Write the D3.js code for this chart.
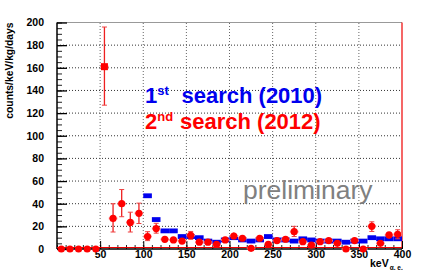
<!DOCTYPE html>
<html>
<head>
<meta charset="utf-8">
<script src="https://cdn.jsdelivr.net/npm/d3@7"></script>
<style>
    body { margin: 0; background: #fff; }
    svg { display: block; font-family: 'Liberation Sans', Arial, sans-serif; }
    .tick text { font-weight: bold; font-size: 10.5px; fill: #000; }
    .axis path { display: none; }
</style>
</head>
<body>
<svg id="chart" width="443" height="273"></svg>
<script>
// 2nd search (2012), red points: bin centre (keV), counts, error low, error high
let redEnergy = [5, 15, 25, 35, 45, 55, 65, 75, 85, 95, 105, 115, 125, 135, 145, 155, 165, 175, 185, 195,
    205, 215, 225, 235, 245, 255, 265, 275, 285, 295, 305, 315, 325, 335, 345, 355, 365, 375, 385, 395]
let redCounts = [0, 0, 0, 0, 0, 161, 27, 40, 23.5, 31.5, 11, 18, 8.5, 8, 7, 12, 6, 6, 4, 8,
    11.5, 9.5, 0.6, 9.5, 4, 7.4, 8.6, 15.3, 6.5, 3.5, 6.5, 7.4, 5, 0, 7.4, 0, 20, 5, 12.4, 13]
let redLow = [0, 0, 0, 0, 0, 127, 15, 28.5, 15, 22.5, 7.4, 14, 6, 5.5, 4.5, 8.5, 4, 4, 2.5, 5.5,
    8.5, 7, 0, 7, 2.5, 5, 6, 11, 4, 2, 4, 5, 3, 0, 5, 0, 15.5, 3, 9, 9]
let redHigh = [0, 0, 0, 0, 0, 196, 40, 52.5, 32.5, 40.5, 15.3, 22.7, 11, 10.5, 9.5, 15.5, 8, 8, 6, 10.5,
    14.5, 12, 2, 12, 6, 10, 11, 20, 9, 5, 9, 10, 7, 1, 10, 1, 24, 7, 15, 17]
let squareMarkers = [55]

// 1st search (2010), blue bins
let blueEnergy = [105, 115, 125, 135, 145, 155, 165, 175, 185, 195, 205, 215, 225, 235, 245,
    255, 265, 275, 285, 295, 305, 315, 325, 335, 345, 355, 365, 375, 385, 395]
let blueCounts = [47, 26, 16, 16, 11, 11, 10, 7, 6, 8, 10, 8, 7, 8, 11,
    8, 8, 7, 9, 8, 7, 7, 7, 6, 7, 7, 10, 9, 9, 9]

let binWidth = 10
let xTicks = [50, 100, 150, 200, 250, 300, 350, 400]
let yTicks = [0, 20, 40, 60, 80, 100, 120, 140, 160, 180, 200]

function main() {
    let svg = d3.select('#chart'),
        margin = {top: 22.5, bottom: 24, left: 57, right: 41},
        width = svg.attr('width') - margin.left - margin.right,
        height = svg.attr('height') - margin.top - margin.bottom

    let x = d3.scaleLinear().domain([0, 400]).range([margin.left, margin.left + width]),
        y = d3.scaleLinear().domain([0, 200]).range([margin.top + height, margin.top])

    // grid
    svg.append('g').selectAll('line')
        .data(yTicks.filter(d => d > 0 && d < 200))
        .enter().append('line')
        .attr('x1', x(0)).attr('x2', x(400))
        .attr('y1', d => y(d)).attr('y2', d => y(d))
        .attr('stroke', '#333').attr('stroke-width', 1)
        .attr('stroke-dasharray', '1,2')

    svg.append('g').selectAll('line')
        .data(xTicks.filter(d => d < 400))
        .enter().append('line')
        .attr('x1', d => x(d)).attr('x2', d => x(d))
        .attr('y1', y(0)).attr('y2', y(200))
        .attr('stroke', '#666').attr('stroke-width', 1)
        .attr('stroke-dasharray', '1,2')

    // frame
    svg.append('line')
        .attr('x1', x(0)).attr('x2', x(400)).attr('y1', y(200)).attr('y2', y(200))
        .attr('stroke', '#999').attr('stroke-width', 1)
    svg.append('line')
        .attr('x1', x(400)).attr('x2', x(400)).attr('y1', y(200)).attr('y2', y(0))
        .attr('stroke', '#e00').attr('stroke-width', 1.2)

    // inside ticks
    svg.append('g')
        .attr('class', 'axis')
        .attr('transform', 'translate(' + x(0) + ',0)')
        .call(d3.axisLeft(y).ticks(50).tickSize(-5).tickFormat(''))
        .selectAll('line').attr('stroke', '#222')
    svg.append('g')
        .attr('class', 'axis')
        .attr('transform', 'translate(' + x(0) + ',0)')
        .call(d3.axisLeft(y).tickValues(yTicks).tickSize(-10).tickPadding(13))
        .selectAll('line').attr('stroke', '#000').attr('stroke-width', 1.3)

    svg.append('g')
        .attr('class', 'axis')
        .attr('transform', 'translate(0,' + y(0) + ')')
        .call(d3.axisBottom(x).ticks(40).tickSize(-4).tickFormat(''))
        .selectAll('line').attr('stroke', '#222')
    svg.append('g')
        .attr('class', 'axis')
        .attr('transform', 'translate(0,' + y(0) + ')')
        .call(d3.axisBottom(x).tickValues(xTicks).tickSize(-8).tickPadding(2))
        .selectAll('line').attr('stroke', '#000')

    // axis lines
    svg.append('line')
        .attr('x1', x(0)).attr('x2', x(0)).attr('y1', y(0)).attr('y2', y(200))
        .attr('stroke', '#000').attr('stroke-width', 1.5)
    svg.append('line')
        .attr('x1', x(0)).attr('x2', x(400)).attr('y1', y(0)).attr('y2', y(0))
        .attr('stroke', '#000').attr('stroke-width', 1.5)
    svg.append('line')
        .attr('x1', x(0)).attr('x2', x(400)).attr('y1', y(0) - 1.5).attr('y2', y(0) - 1.5)
        .attr('stroke', '#e00').attr('stroke-width', 1)

    // blue bins
    let blue = blueEnergy.map((e, i) => ({e: e, v: blueCounts[i]}))
    svg.append('g').selectAll('rect')
        .data(blue)
        .enter().append('rect')
        .attr('x', d => x(d.e - binWidth / 2))
        .attr('width', d => x(d.e + binWidth / 2) - x(d.e - binWidth / 2))
        .attr('y', d => y(d.v) - 2.4)
        .attr('height', 4.8)
        .attr('fill', '#0000ee')

    // red points
    let red = redEnergy.map((e, i) => ({e: e, v: redCounts[i], lo: redLow[i], hi: redHigh[i]}))
    let rg = svg.append('g')
    rg.selectAll('.xerr')
        .data(red.filter(d => d.e > 50))
        .enter().append('line')
        .attr('x1', d => x(d.e - binWidth / 2)).attr('x2', d => x(d.e + binWidth / 2))
        .attr('y1', d => y(d.v)).attr('y2', d => y(d.v))
        .attr('stroke', '#ff9090').attr('stroke-width', 2)
    rg.selectAll('.yerr')
        .data(red.filter(d => d.hi - d.lo > 0))
        .enter().append('line')
        .attr('x1', d => x(d.e)).attr('x2', d => x(d.e))
        .attr('y1', d => y(d.lo)).attr('y2', d => y(d.hi))
        .attr('stroke', '#ee2020').attr('stroke-width', 1.3)
    rg.selectAll('.cap')
        .data(red.filter(d => d.hi - d.lo > 6).flatMap(d => [d.lo, d.hi].map(v => ({e: d.e, v: v}))))
        .enter().append('line')
        .attr('x1', d => x(d.e) - 2.5).attr('x2', d => x(d.e) + 2.5)
        .attr('y1', d => y(d.v)).attr('y2', d => y(d.v))
        .attr('stroke', '#ee4040').attr('stroke-width', 1)
    rg.selectAll('circle')
        .data(red.filter(d => !squareMarkers.includes(d.e)))
        .enter().append('circle')
        .attr('cx', d => x(d.e)).attr('cy', d => y(d.v))
        .attr('r', 3.6)
        .attr('fill', '#ff0000')
    rg.selectAll('.sq')
        .data(red.filter(d => squareMarkers.includes(d.e)))
        .enter().append('rect')
        .attr('x', d => x(d.e) - 3.5).attr('y', d => y(d.v) - 3.5)
        .attr('width', 7).attr('height', 7)
        .attr('fill', '#ff0000')

    // legend text
    let l1 = svg.append('text')
        .attr('x', 145).attr('y', 103)
        .attr('fill', '#0000ee').attr('font-weight', 'bold').attr('font-size', 22)
    l1.append('tspan').text('1')
    l1.append('tspan').attr('dy', -8).attr('font-size', 13).text('st')
    l1.append('tspan').attr('dy', 8).attr('x', 181.5).text('search (2010)')

    let l2 = svg.append('text')
        .attr('x', 145).attr('y', 128.5)
        .attr('fill', '#ff0000').attr('font-weight', 'bold').attr('font-size', 22)
    l2.append('tspan').text('2')
    l2.append('tspan').attr('dy', -8).attr('font-size', 13).text('nd')
    l2.append('tspan').attr('dy', 8).attr('x', 180).text('search (2012)')

    svg.append('text')
        .attr('x', 243).attr('y', 198.5)
        .attr('fill', '#808080').attr('font-size', 26.5)
        .text('preliminary')

    // axis titles
    svg.append('text')
        .attr('transform', 'translate(12.5,' + margin.top + ') rotate(-90)')
        .attr('text-anchor', 'end')
        .attr('font-weight', 'bold').attr('font-size', 10.3)
        .text('counts/keV/kg/days')

    let xt = svg.append('text')
        .attr('x', 370).attr('y', 267)
        .attr('font-weight', 'bold').attr('font-size', 10.5)
    xt.append('tspan').text('keV')
    xt.append('tspan').attr('dy', 3).attr('dx', 1).attr('font-size', 6.5).text('α. e.')
}

main()
</script>
</body>
</html>
